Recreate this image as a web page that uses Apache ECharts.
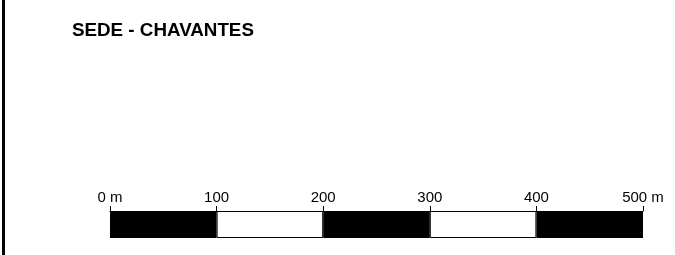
<!DOCTYPE html>
<html>
<head>
<meta charset="utf-8">
<script src="https://cdn.jsdelivr.net/npm/echarts@6/dist/echarts.min.js"></script>
<style>
  html, body { margin: 0; padding: 0; background: #fff; }
  #chart { width: 675px; height: 255px; }
  .frame { position: absolute; left: 2px; top: 0; width: 3px; height: 255px; background: #000; }
</style>
</head>
<body>
<div class="frame"></div>
<div id="chart"></div>
<script>
// dados da escala gráfica
const tickValues = [0, 100, 200, 300, 400, 500]
const segments = [100, 100, 100, 100, 100]
const segmentColors = ['#000', '#fff', '#000', '#fff', '#000']
const unit = 'm'
const title = 'SEDE - CHAVANTES'

const series = segments.map((v, i) => ({
  type: 'bar',
  stack: 'escala',
  barWidth: 27,
  silent: true,
  data: [v],
  itemStyle: {
    color: segmentColors[i],
    borderColor: '#000',
    borderWidth: segmentColors[i] === '#fff' ? 1 : 0
  }
}))

const option = {
  animation: false,
  title: {
    text: title,
    left: 67,
    top: 16,
    textStyle: {
      fontFamily: 'Liberation Sans, Arial, sans-serif',
      fontSize: 18.8,
      fontWeight: 'bold',
      color: '#000'
    }
  },
  grid: {
    left: 110,
    right: 32,
    top: 211,
    height: 27
  },
  xAxis: {
    type: 'value',
    position: 'top',
    min: 0,
    max: 500,
    interval: 100,
    splitLine: { show: false },
    axisLine: { show: true, lineStyle: { color: '#000', width: 1 } },
    axisTick: { show: true, length: 5, lineStyle: { color: '#000', width: 1 } },
    axisLabel: {
      margin: 6,
      color: '#000',
      fontSize: 15,
      fontFamily: 'Liberation Sans, Arial, sans-serif',
      formatter: (v) => (v === tickValues[0] || v === tickValues[tickValues.length - 1]) ? v + ' ' + unit : String(v)
    }
  },
  yAxis: {
    type: 'category',
    data: [''],
    show: false
  },
  series
}

const myChart = echarts.init(document.getElementById('chart'))
myChart.setOption(option, true)
window.addEventListener('resize', () => {
  myChart.resize()
})
</script>
</body>
</html>
